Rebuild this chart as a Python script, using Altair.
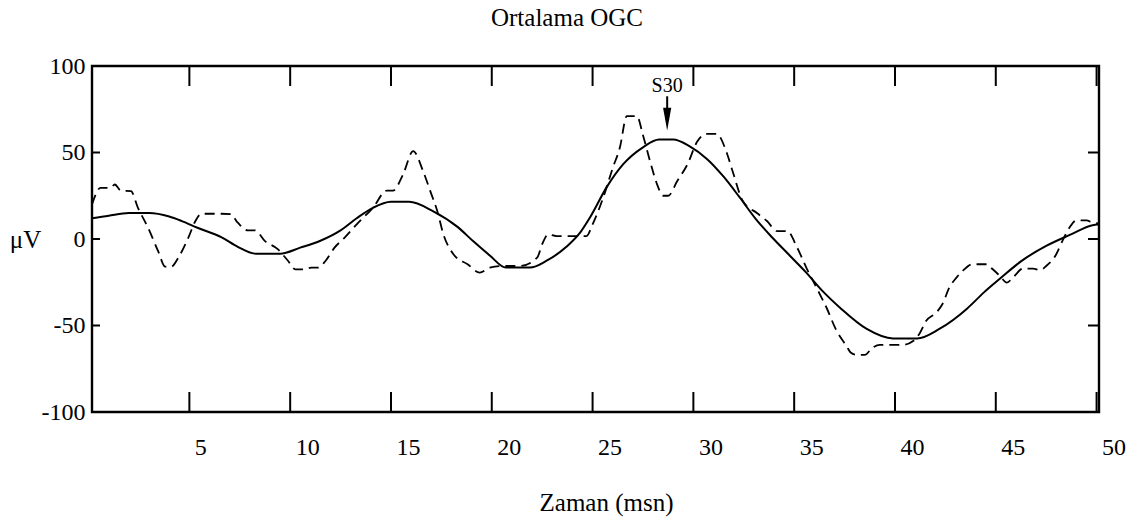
import altair as alt
import pandas as pd

# ---- data ----
solid_x = [0.17, 1.0, 2.0, 3.0, 4.0, 4.6, 5.4, 6.6, 7.4, 8.3,
           9.5, 10.5, 11.5, 12.5, 13.3, 14.1, 15.0, 15.9, 17.1, 18.3,
           19.1, 19.9, 20.7, 21.9, 22.7, 23.7, 24.4, 24.9, 25.7, 26.5,
           27.5, 28.3, 29.0, 29.8, 30.7, 31.5, 32.3, 33.1, 33.9, 34.8,
           35.6, 36.4, 37.3, 38.6, 39.9, 41.1, 42.2, 43.6, 44.4, 45.2,
           46.3, 47.5, 48.7, 49.8, 50.12]
solid_y = [12, 13.5, 15, 15, 13, 10.5, 6.5, 1, -4.5, -8.5,
           -8.5, -5, -1, 5, 12, 18, 21.5, 21.5, 16, 7,
           -1.5, -9.5, -16.5, -16.5, -12.7, -4.5, 4, 13, 30, 43,
           53, 57.5, 57.5, 53.7, 46, 36, 24, 11.5, 1, -9.8,
           -19.4, -30, -40, -52, -57.5, -57.5, -52, -40, -31, -23,
           -12.5, -4, 2.5, 8, 8.5]

dash_x = [0.17, 0.6, 1.1, 1.3, 1.6, 2.1, 2.45, 2.95, 3.45, 3.8,
          4.1, 4.45, 4.95, 5.3, 5.6, 6.6, 7.05, 7.4, 7.9, 8.25,
          8.75, 9.4, 9.9, 10.25, 10.75, 11.05, 11.4, 11.75, 12.2, 12.7,
          13.3, 14.1, 14.8, 15.1, 15.6, 16.1, 16.6, 16.95, 17.3, 17.6,
          18.1, 18.8, 19.4, 19.9, 20.55, 21.4, 22.25, 22.5, 22.8, 23.2,
          24.7, 25.0, 25.5, 26.0, 26.35, 26.7, 27.2, 27.5, 27.85, 28.2,
          28.5, 28.75, 29.2, 29.7, 30.2, 30.65, 31.15, 31.65, 31.95, 32.45,
          33.15, 33.65, 34.15, 34.65, 35.15, 35.6, 36.1, 36.6, 37.1, 37.6,
          37.8, 38.1, 38.5, 38.9, 39.25, 40.4, 40.9, 41.2, 41.55, 42.05,
          42.35, 42.7, 43.05, 43.35, 43.85, 44.55, 44.85, 45.2, 45.55, 45.85,
          46.35, 46.85, 47.2, 47.5, 48.0, 48.3, 48.65, 49.0, 49.5, 49.8,
          50.12]
dash_y = [20, 29.6, 29.6, 31.5, 28, 27.7, 18, 6.5, -7, -16,
          -16, -10.8, 0.8, 10.4, 14.6, 14.6, 14.4, 9.4, 5, 5,
          -1.2, -6, -12.7, -17.5, -17.5, -16.5, -16.5, -12.7, -5, 0.8,
          8.5, 18, 28, 28, 37.3, 50.8, 39, 27.7, 16, 2.7,
          -8.8, -14.6, -19.4, -16.5, -15.6, -15.6, -10.8, -3, 2.7, 1.7,
          1.7, 8.5, 23, 41, 52.7, 71, 71, 60, 45, 31.6,
          25, 25, 33.5, 43, 56.5, 60.8, 60.8, 50, 39, 22,
          15, 10.4, 4.6, 4.6, -5, -16.5, -28, -39.6, -53, -62,
          -65.6, -67, -67, -62.7, -61.2, -61.2, -59, -55, -47.3, -42.5,
          -37.7, -28, -22.3, -18.5, -14.6, -14.6, -17.5, -21.3, -25.2, -22.3,
          -17.1, -17.1, -18, -15.6, -8.8, -1.2, 6.5, 10.8, 10.8, 9.4,
          9]

x_ticks = [5, 10, 15, 20, 25, 30, 35, 40, 45, 50]
y_labels = [-100, -50, 0, 50, 100]
y_inner_ticks = [-50, 0, 50]

chart_title = "Ortalama OGC"
annot_label = ["S30"]
annot_x = [28.7]
annot_text_y = [88.7]
annot_stem_top = [82.5]
annot_stem_bottom = [74.5]
annot_head_y = [69.3]

X_DOMAIN = [0.17, 50.12]
Y_DOMAIN = [-100, 100]
FONT = "'Liberation Serif', 'Times New Roman', Times, serif"

W, H = 1007, 346

solid_df = pd.DataFrame({"x": solid_x, "y": solid_y})
dash_df = pd.DataFrame({"x": dash_x, "y": dash_y})
xt_df = pd.DataFrame({"x": x_ticks})
yt_df = pd.DataFrame({"y": y_inner_ticks})
ann_df = pd.DataFrame({"x": annot_x, "y": annot_text_y, "s2": annot_stem_bottom,
                       "st": annot_stem_top, "hy": annot_head_y,
                       "label": annot_label})
title_df = pd.DataFrame({"t": [chart_title]})

xs = alt.Scale(domain=X_DOMAIN, nice=False, zero=False)
ys = alt.Scale(domain=Y_DOMAIN, nice=False, zero=False)

x_axis = alt.Axis(values=x_ticks, ticks=False, domain=False, grid=False,
                  labelAlign="left", labelOffset=5, labelBaseline="middle",
                  labelPadding=35, labelFlush=False, labelOverlap=False,
                  labelFont=FONT, labelFontSize=24, labelColor="black",
                  labelExpr="'' + datum.value",
                  title="Zaman (msn)", titleFont=FONT, titleFontSize=25,
                  titleFontWeight="normal", titleColor="black",
                  titleX=514, titleY=90, titleAlign="center", titleBaseline="middle")
y_axis = alt.Axis(values=y_labels, ticks=False, domain=False, grid=False,
                  labelPadding=7, labelFlush=False, labelOverlap=False,
                  labelFont=FONT, labelFontSize=24, labelColor="black",
                  labelExpr="'' + datum.value",
                  title="μV", titleFont=FONT, titleFontSize=25,
                  titleFontWeight="normal", titleColor="black",
                  titleAngle=0, titleX=-67, titleY=173,
                  titleAlign="center", titleBaseline="middle")

X = alt.X("x:Q", scale=xs, axis=x_axis)
Y = alt.Y("y:Q", scale=ys, axis=y_axis)

solid = alt.Chart(solid_df).mark_line(color="black", strokeWidth=2,
                                      interpolate="monotone").encode(x=X, y=Y)

dashed = alt.Chart(dash_df).mark_line(color="black", strokeWidth=1.8, interpolate="monotone",
                                      strokeDash=[10, 6]).encode(x=X, y=Y)

top_ticks = alt.Chart(xt_df).mark_rule(color="black", strokeWidth=2).encode(
    x=X, y=alt.value(0), y2=alt.value(20))
bottom_ticks = alt.Chart(xt_df).mark_rule(color="black", strokeWidth=2).encode(
    x=X, y=alt.value(H - 20), y2=alt.value(H))
left_ticks = alt.Chart(yt_df).mark_rule(color="black", strokeWidth=2).encode(
    y=Y, x=alt.value(0), x2=alt.value(8))
right_ticks = alt.Chart(yt_df).mark_rule(color="black", strokeWidth=2).encode(
    y=Y, x=alt.value(W - 11), x2=alt.value(W))

ann_text = alt.Chart(ann_df).mark_text(font=FONT, fontSize=20, color="black",
                                       align="center", baseline="middle").encode(
    x=X, y=Y, text="label:N")
ann_stem = alt.Chart(ann_df).mark_rule(color="black", strokeWidth=2).encode(
    x=X, y=alt.Y("st:Q", scale=ys, axis=y_axis), y2="s2:Q")
ann_head = alt.Chart(ann_df).mark_point(shape="M-0.36,-1L0.36,-1L0,1Z", size=520,
                                        filled=True, color="black", opacity=1).encode(
    x=X, y=alt.Y("hy:Q", scale=ys, axis=y_axis))

title_mark = alt.Chart(title_df).mark_text(font=FONT, fontSize=25, color="black",
                                           align="center", baseline="middle").encode(
    x=alt.value(475), y=alt.value(-48), text="t:N")

chart = alt.layer(
    solid, dashed, top_ticks, bottom_ticks, left_ticks, right_ticks,
    ann_text, ann_stem, ann_head, title_mark
).properties(
    width=W, height=H,
    background="white",
    autosize=alt.AutoSizeParams(type="none"),
    padding={"left": 92, "top": 66, "right": 40, "bottom": 110},
).configure(
    font=FONT
).configure_view(
    stroke="black", strokeWidth=2.4
).configure_axis(
    labelFont=FONT, titleFont=FONT,
)

chart.save("out.html", embed_options={"renderer": "svg", "actions": False})
